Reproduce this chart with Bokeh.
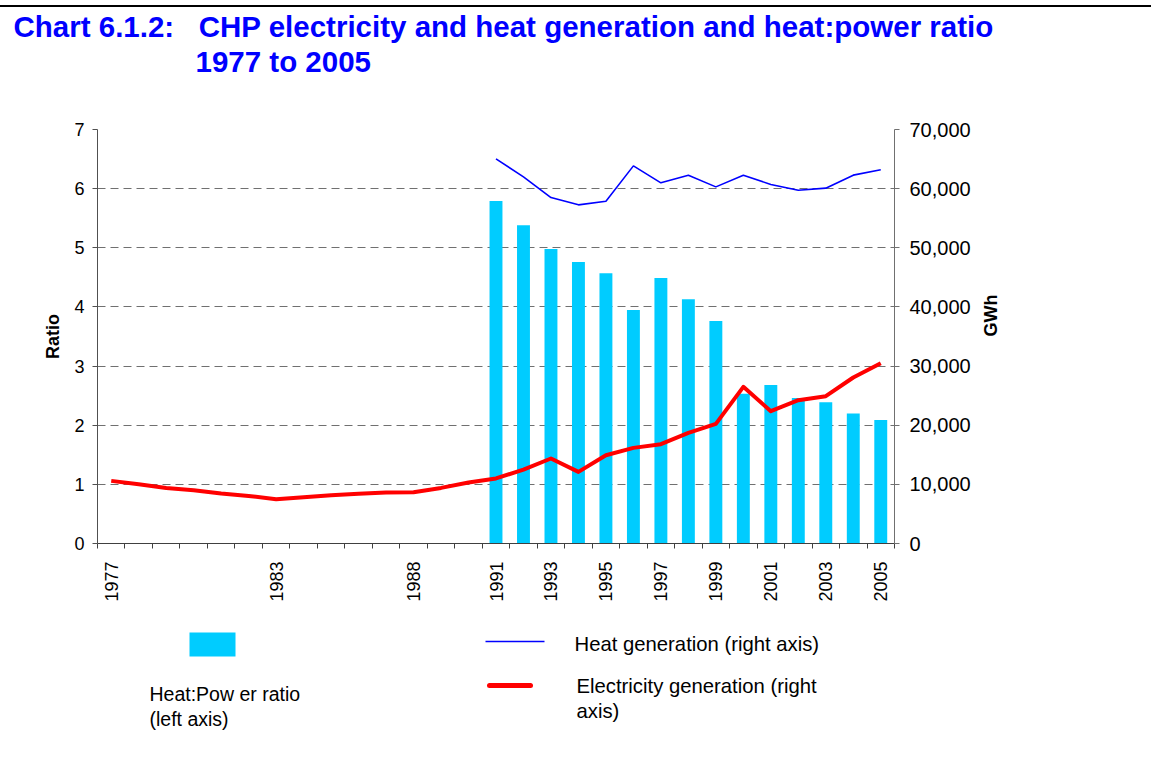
import math
from bokeh.plotting import figure
from bokeh.models import Range1d, LinearAxis, FixedTicker, NumeralTickFormatter, Title, Div
from bokeh.layouts import column
from bokeh.embed import file_html
from bokeh.resources import INLINE
from bokeh.core.properties import value

# ---------------- data ----------------
years = list(range(1977, 2006))
elec_gwh = [10590, 10000, 9400, 9000, 8450, 8050, 7500, 7830, 8170, 8400,
            8620, 8670, 9400, 10300, 11000, 12500, 14370, 12110, 14930, 16170,
            16790, 18710, 20230, 26490, 22370, 24230, 24910, 28070, 30490]
ratio_years = list(range(1991, 2006))
heat_power_ratio = [5.79, 5.38, 4.98, 4.76, 4.57, 3.95, 4.49, 4.13, 3.76,
                    2.53, 2.68, 2.46, 2.39, 2.20, 2.09]
heat_gwh = [65040, 62000, 58500, 57260, 57880, 63850, 60980, 62280, 60300,
            62280, 60700, 59740, 60080, 62280, 63180]
label_years = [1977, 1983, 1988, 1991, 1993, 1995, 1997, 1999, 2001, 2003, 2005]
left_ticks = [0, 1, 2, 3, 4, 5, 6, 7]
right_ticks = [0, 10000, 20000, 30000, 40000, 50000, 60000, 70000]

FONT = "Liberation Sans"
W = 1151
BL, BR = 97, 257   # borders so that the plot frame is 797 px wide

# ---------------- thin black rule at top ----------------
rule = Div(text="", width=W, height=2, margin=(5, 0, 0, 0),
           styles={"background-color": "black"})

# ---------------- main chart ----------------
p = figure(width=W, height=605, min_border_left=BL, min_border_right=BR,
           min_border_top=122, min_border_bottom=69,
           x_range=Range1d(1976.5, 2005.5), y_range=Range1d(0, 7),
           toolbar_location=None, output_backend="svg")
p.outline_line_color = None
p.xgrid.visible = False
p.ygrid.ticker = FixedTicker(ticks=left_ticks)
p.ygrid.grid_line_color = "#707070"
p.ygrid.grid_line_dash = "8 5"
p.ygrid.grid_line_width = 1

tstyle = dict(text_font=FONT, text_font_size="29.5px", text_font_style="bold",
              text_color="#0000FF", align="left", text_line_height=0.9)
p.add_layout(Title(text=" ", offset=0, standoff=17, **tstyle), "above")
p.add_layout(Title(text="1977 to 2005", offset=98, standoff=0, **tstyle), "above")
p.add_layout(Title(text="Chart 6.1.2:\u00a0\u00a0 CHP electricity and heat generation and heat:power ratio",
                   offset=-84, standoff=0, **tstyle), "above")

p.extra_y_ranges = {"gwh": Range1d(0, 70000)}

p.vbar(x=ratio_years, top=heat_power_ratio, bottom=0, width=0.47,
       fill_color="#00CCFF", line_color=None)
p.line(years, elec_gwh, y_range_name="gwh", line_color="#FF0000", line_width=4,
       line_join="round")
p.line(ratio_years, heat_gwh, y_range_name="gwh", line_color="#0000FF", line_width=1.6)

# x axis
xa = p.xaxis[0]
xa.ticker = FixedTicker(ticks=label_years, minor_ticks=[yr + 0.5 for yr in range(1976, 2006)])
xa.major_tick_out = 0
xa.major_tick_in = 0
xa.minor_tick_out = 5
xa.minor_tick_in = 0
xa.minor_tick_line_color = "#404040"
xa.axis_line_color = "#404040"
xa.major_label_orientation = math.pi / 2
xa.major_label_standoff = 13
xa.major_label_text_font = FONT
xa.major_label_text_font_size = "18px"
xa.major_label_text_color = "black"

# left axis
ya = p.yaxis[0]
ya.ticker = FixedTicker(ticks=left_ticks)
ya.major_tick_out = 5
ya.major_tick_in = 0
ya.minor_tick_line_color = None
ya.axis_line_color = "#505050"
ya.major_tick_line_color = "#505050"
ya.major_label_standoff = 8
ya.major_label_text_font = FONT
ya.major_label_text_font_size = "18px"
ya.major_label_text_color = "black"
ya.axis_label = "Ratio"
ya.axis_label_text_font = FONT
ya.axis_label_text_font_size = "18px"
ya.axis_label_text_font_style = "bold"
ya.axis_label_text_color = "black"
ya.axis_label_standoff = 8

# right axis
ra = LinearAxis(y_range_name="gwh", ticker=FixedTicker(ticks=right_ticks),
                formatter=NumeralTickFormatter(format="0,0"))
ra.major_tick_out = 5
ra.major_tick_in = 0
ra.minor_tick_line_color = None
ra.axis_line_color = "#707070"
ra.major_tick_line_color = "#707070"
ra.major_label_standoff = 10
ra.major_label_text_font = FONT
ra.major_label_text_font_size = "20px"
ra.major_label_text_color = "black"
ra.axis_label = "GWh"
ra.axis_label_text_font = FONT
ra.axis_label_text_font_size = "18px"
ra.axis_label_text_font_style = "bold"
ra.axis_label_text_color = "black"
ra.axis_label_standoff = 17
ra.axis_label_orientation = math.pi / 2
p.add_layout(ra, "right")

# ---------------- legend (page pixel coordinates) ----------------
LT, LH = 612, 130
lg = figure(width=W, height=LH, min_border_left=BL, min_border_right=BR,
            min_border_top=0, min_border_bottom=0,
            x_range=Range1d(97, 894), y_range=Range1d(LT + LH, LT),
            x_axis_type=None, y_axis_type=None, toolbar_location=None,
            output_backend="svg", outline_line_color=None)
lstyle = dict(text_font=value(FONT), text_color="black",
              text_baseline="alphabetic", text_align="left")
lg.quad(left=[189], right=[235], top=[632], bottom=[656], fill_color="#00CCFF", line_color=None)
lg.text(x=[149], y=[693], text=["Heat:Pow er ratio"], text_font_size="19.5px", **lstyle)
lg.text(x=[149], y=[718], text=["(left axis)"], text_font_size="19.5px", **lstyle)
lg.segment(x0=[485], y0=[641], x1=[544], y1=[641], line_color="#0000FF", line_width=1.6)
lg.text(x=[574], y=[643], text=["Heat generation (right axis)"], text_font_size="20.3px", **lstyle)
lg.segment(x0=[489], y0=[685], x1=[530], y1=[685], line_color="#FF0000", line_width=5,
           line_cap="round")
lg.text(x=[576], y=[685], text=["Electricity generation (right"], text_font_size="20.3px", **lstyle)
lg.text(x=[576], y=[710], text=["axis)"], text_font_size="20.3px", **lstyle)

layout = column(rule, p, lg)
open("out.html", "w").write(file_html(layout, INLINE))
